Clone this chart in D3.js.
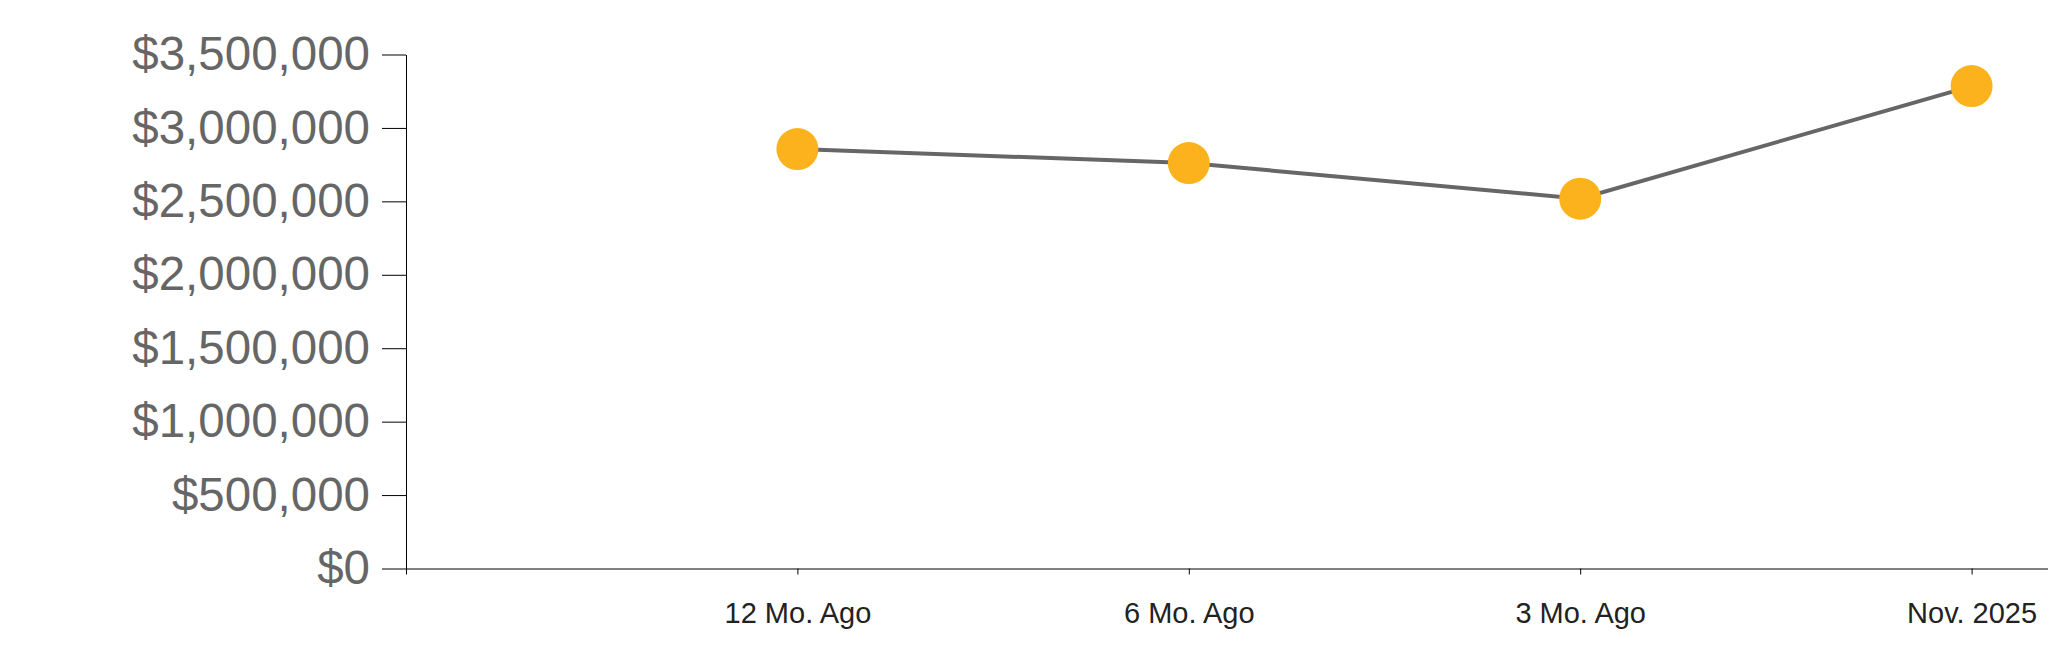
<!DOCTYPE html>
<html>
<head>
<meta charset="utf-8">
<script src="https://cdn.jsdelivr.net/npm/d3@7"></script>
<style>
  html, body { margin: 0; padding: 0; background: #fff; }
  svg { display: block; }
  .y-axis text { fill: #666; font-family: "Liberation Sans", Arial, sans-serif; font-size: 47.5px; }
  .x-axis text { fill: #222; font-family: "Liberation Sans", Arial, sans-serif; font-size: 29px; }
  .domain, .tick line { stroke: #000; }
</style>
</head>
<body>
<script>
// Data
const categories = ["12 Mo. Ago", "6 Mo. Ago", "3 Mo. Ago", "Nov. 2025"];
const values = [2856000, 2761000, 2518000, 3285000];
const yTicks = [0, 500000, 1000000, 1500000, 2000000, 2500000, 3000000, 3500000];
const yMax = 3500000;

const W = 2048, H = 663;
const svg = d3.select("body").append("svg").attr("width", W).attr("height", H);

const x0 = 406, yTop = 54.5, yBottom = 568.5, step = 391.4;
// point scale with leading and trailing empty slots
const domain = [""].concat(categories).concat([" "]);
const x = d3.scalePoint().domain(domain).range([x0, x0 + step * (domain.length - 1)]);
const y = d3.scaleLinear().domain([0, yMax]).range([yBottom, yTop]);

const fmt = d3.format("$,.0f");

svg.append("g")
  .attr("class", "y-axis")
  .attr("transform", `translate(${x0},0)`)
  .call(d3.axisLeft(y).tickValues(yTicks).tickFormat(fmt).tickSize(24).tickSizeOuter(0).tickPadding(12));

svg.append("g")
  .attr("class", "x-axis")
  .attr("transform", `translate(0,${yBottom})`)
  .call(d3.axisBottom(x).tickSize(6).tickSizeOuter(0).tickPadding(28));

const pts = categories.map((c, i) => ({c, v: values[i]}));

svg.append("path")
  .datum(pts)
  .attr("fill", "none")
  .attr("stroke", "#666")
  .attr("stroke-width", 4)
  .attr("d", d3.line().x(d => x(d.c)).y(d => y(d.v)));

svg.selectAll("circle.pt")
  .data(pts)
  .enter().append("circle")
  .attr("class", "pt")
  .attr("cx", d => x(d.c))
  .attr("cy", d => y(d.v))
  .attr("r", 21)
  .attr("fill", "#fbb21c");
</script>
</body>
</html>
